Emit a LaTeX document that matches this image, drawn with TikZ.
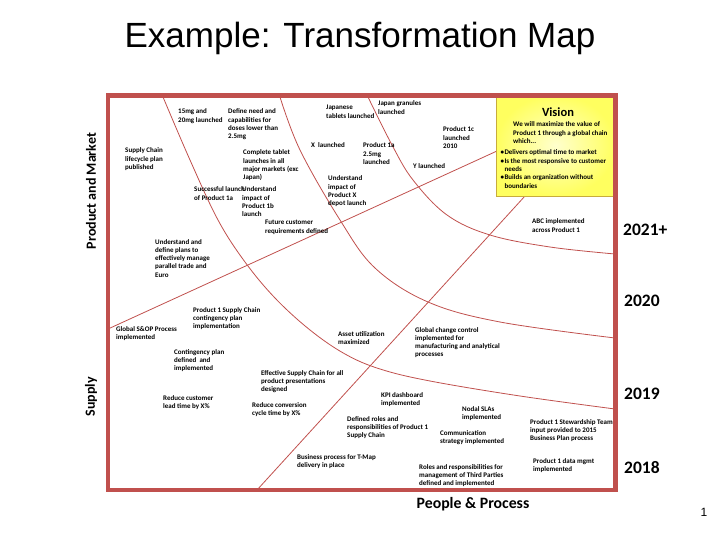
\documentclass[tikz,border=0pt]{standalone}
\usepackage{fontspec}
\setmainfont{Carlito}
\newfontfamily\arialf{Liberation Sans}
\definecolor{framered}{RGB}{192,80,77}
\definecolor{visionedge}{RGB}{200,172,60}
\definecolor{visionin}{RGB}{255,255,205}
\definecolor{visionout}{RGB}{255,255,95}
\newcommand\ml[1]{\vtop{\halign{##\hfil\cr#1\crcr}}}
\newcommand\bul{\makebox[3.8pt][l]{\textbullet}}
\begin{document}
\begin{tikzpicture}[x=1pt,y=-1pt,
  lbl/.style={anchor=base west, inner sep=0pt, font=\fontsize{7}{8.3}\selectfont\bfseries},
  yearlbl/.style={anchor=base west, inner sep=0pt, font=\fontsize{17.5}{20}\selectfont\bfseries},
  axislbl/.style={inner sep=0pt, font=\fontsize{14}{16}\selectfont\bfseries},
  mapline/.style={draw=framered, line width=0.8pt},
  framebox/.style={draw=framered, line width=4.5pt}]
\useasboundingbox (0,0) rectangle (720,540);

% title
\node[anchor=base, inner sep=0pt, font=\arialf\fontsize{35}{40}\selectfont] (title) at (360,48) {Example: Transformation Map};
\node[inner sep=0pt, font=\arialf\fontsize{12}{14}\selectfont] (pagenum) at (704,512) {1};

% map lines
\coordinate (l1a) at (108,329);
\coordinate (l1b) at (497,151);
\coordinate (l2a) at (257,490);
\coordinate (l2b) at (525,196);
\draw[mapline] (l1a) -- (l1b);
\draw[mapline] (l2a) -- (l2b);
\draw[mapline] plot[smooth, tension=0.6] coordinates {(368,97) (392,145) (413,180) (447,215) (490,235) (550,247) (615,254)};
\draw[mapline] plot[smooth, tension=0.6] coordinates {(280,97) (300,150) (340,220) (375,268) (428,302) (500,322) (615,338)};
\draw[mapline] plot[smooth, tension=0.6] coordinates {(163,97) (190,160) (218,220) (245,262) (275,298) (310,330) (345,354) (380,369) (430,381) (520,396) (615,409)};

% vision box
\shadedraw[inner color=visionin, outer color=visionout, draw=visionedge, line width=0.6pt] (496,95) rectangle (615,196);
\node (vision) [anchor=base, inner sep=0pt, font=\fontsize{12.5}{14}\selectfont\bfseries] at (558,117) {Vision};
\node (visiontext) [lbl] at (513,127) {\ml{We will maximize the value of\cr Product 1 through a global chain\cr which...}};
\node (visionbul) [lbl] at (500.5,155) {\ml{\bul Delivers optimal time to market\cr \bul Is the most responsive to customer\cr \hspace{3.8pt}needs\cr \bul Builds an organization without\cr \hspace{3.8pt}boundaries}};

% frame
\draw[framebox] (108,95.5) rectangle (615.5,490);

% axis labels
\node (pm) [axislbl, rotate=90] at (91,191) {Product and Market};
\node (sup) [axislbl, rotate=90] at (91,397) {Supply};
\node (pp) [inner sep=0pt, font=\fontsize{15.8}{18}\selectfont\bfseries] at (473,504) {People \& Process};

% years
\node (y21) [yearlbl] at (623,235.5) {2021+};
\node (y20) [yearlbl] at (624,306.5) {2020};
\node (y19) [yearlbl] at (624,399.5) {2019};
\node (y18) [yearlbl] at (624,473.5) {2018};

% items
\node (s15) [lbl] at (178,114) {\ml{15mg and\cr 20mg launched}};
\node (def) [lbl] at (228,114) {\ml{Define need and\cr capabilities for\cr doses lower than\cr 2.5mg}};
\node (scl) [lbl] at (125,153) {\ml{Supply Chain\cr lifecycle plan\cr published}};
\node (ctl) [lbl] at (243,155) {\ml{Complete tablet\cr launches in all\cr major markets (exc\cr Japan)}};
\node (sl1a) [lbl] at (194,192) {\ml{Successful launch\cr of Product 1a}};
\node (u1b) [lbl] at (242,192) {\ml{Understand\cr impact of\cr Product 1b\cr launch}};
\node (jtl) [lbl] at (326,110) {\ml{Japanese\cr tablets launched}};
\node (jgl) [lbl] at (378,106) {\ml{Japan granules\cr launched}};
\node (p1c) [lbl] at (443,132) {\ml{Product 1c\cr launched\cr 2010}};
\node (xl) [lbl] at (311,148) {X\ \ launched};
\node (p1a) [lbl] at (363,148) {\ml{Product 1a\cr 2.5mg\cr launched}};
\node (yl) [lbl] at (413,169) {Y launched};
\node (ux) [lbl] at (328,181) {\ml{Understand\cr impact of\cr Product X\cr depot launch}};
\node (fcr) [lbl] at (265,225) {\ml{Future customer\cr requirements defined}};
\node (upt) [lbl] at (155,244) {\ml{Understand and\cr define plans to\cr effectively manage\cr parallel trade and\cr Euro}};
\node (scc) [lbl] at (193,312) {\ml{Product 1 Supply Chain\cr contingency plan\cr implementation}};
\node (abc) [lbl] at (532,224) {\ml{ABC implemented\cr across Product 1}};
\node (gsop) [lbl] at (116,331) {\ml{Global S\&OP Process\cr implemented}};
\node (cpd) [lbl] at (174,354) {\ml{Contingency plan\cr defined\ \ and\cr implemented}};
\node (esc) [lbl] at (261,375) {\ml{Effective Supply Chain for all\cr product presentations\cr designed}};
\node (rcl) [lbl] at (163,400) {\ml{Reduce customer\cr lead time by X\%}};
\node (rcc) [lbl] at (252,407) {\ml{Reduce conversion\cr cycle time by X\%}};
\node (aum) [lbl] at (338,336) {\ml{Asset utilization\cr maximized}};
\node (gcc) [lbl] at (415,332) {\ml{Global change control\cr implemented for\cr manufacturing and analytical\cr processes}};
\node (kpi) [lbl] at (381,397) {\ml{KPI dashboard\cr implemented}};
\node (nsla) [lbl] at (462,411) {\ml{Nodal SLAs\cr implemented}};
\node (drr) [lbl] at (347,421) {\ml{Defined roles and\cr responsibilities of Product 1\cr Supply Chain}};
\node (pst) [lbl] at (530,424) {\ml{Product 1 Stewardship Team\cr input provided to 2015\cr Business Plan process}};
\node (com) [lbl] at (440,435) {\ml{Communication\cr strategy implemented}};
\node (rrt) [lbl] at (419,469) {\ml{Roles and responsibilities for\cr management of Third Parties\cr defined and implemented}};
\node (pdm) [lbl] at (533,463) {\ml{Product 1 data mgmt\cr implemented}};
\node (bpt) [lbl] at (297,459) {\ml{Business process for T-Map\cr delivery in place}};
\end{tikzpicture}
\end{document}
